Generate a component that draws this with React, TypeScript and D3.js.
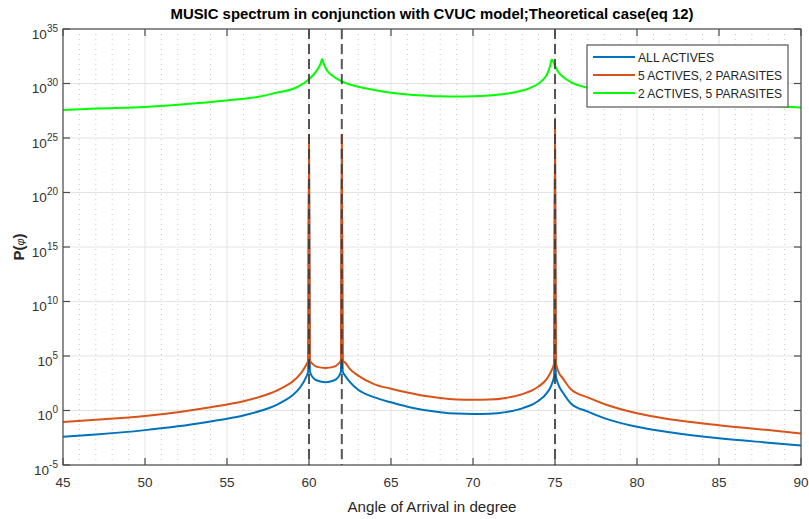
import React from "react";
import * as d3 from "d3";

// ---------- data ----------
const titleText = "MUSIC spectrum in conjunction with CVUC model;Theoretical case(eq 12)";
const xLabelText = "Angle of Arrival in degree";
const seriesNames = ["ALL ACTIVES", "5 ACTIVES, 2 PARASITES", "2 ACTIVES, 5 PARASITES"];
const seriesColors = ["#0072BD", "#D95319", "#00FF00"];

const angleTicks = [45, 50, 55, 60, 65, 70, 75, 80, 85, 90];
const powerTickExponents = [-5, 0, 5, 10, 15, 20, 25, 30, 35];
const trueAngles = [60, 62, 75];

// ALL ACTIVES: angle (deg) and log10 P
const allActivesAngle = [45, 47, 50, 52, 54, 55, 56, 57, 58, 58.5, 59, 59.5, 59.8, 59.95, 60, 60.05, 60.2, 60.5, 61, 61.5, 61.8, 61.95, 62, 62.05, 62.2, 62.5, 63, 64, 65, 66, 67, 68, 69, 70, 71, 72, 73, 74, 74.5, 74.8, 74.95, 75, 75.05, 75.2, 75.5, 76, 77, 78, 80, 82, 85, 88, 90];
const allActivesLogP = [-2.4, -2.2, -1.8, -1.45, -1.0, -0.75, -0.45, -0.05, 0.5, 0.9, 1.4, 2.2, 3.0, 3.6, 24, 3.6, 3.1, 2.75, 2.6, 2.75, 3.1, 3.6, 24, 3.6, 3.2, 2.6, 1.9, 1.2, 0.75, 0.35, 0.05, -0.15, -0.28, -0.32, -0.3, -0.15, 0.2, 0.9, 1.6, 2.4, 3.2, 25, 3.2, 2.4, 1.6, 0.6, -0.1, -0.7, -1.5, -2.0, -2.55, -2.95, -3.2];

// 5 ACTIVES, 2 PARASITES
const fiveActAngle = [45, 47, 50, 52, 54, 55, 56, 57, 58, 58.5, 59, 59.5, 59.8, 59.95, 60, 60.05, 60.2, 60.5, 61, 61.5, 61.8, 61.95, 62, 62.05, 62.2, 62.5, 63, 64, 65, 66, 67, 68, 69, 70, 71, 72, 73, 74, 74.5, 74.8, 74.95, 75, 75.05, 75.2, 75.5, 76, 77, 78, 80, 82, 85, 88, 90];
const fiveActLogP = [-1.05, -0.85, -0.5, -0.15, 0.3, 0.55, 0.85, 1.25, 1.8, 2.2, 2.65, 3.4, 4.1, 4.6, 25.3, 4.6, 4.3, 4.0, 3.9, 4.0, 4.3, 4.6, 25.3, 4.6, 4.4, 3.8, 3.2, 2.4, 2.0, 1.65, 1.35, 1.15, 1.02, 0.98, 1.0, 1.15, 1.5, 2.2, 2.9, 3.7, 4.4, 26.8, 4.4, 3.6, 2.9, 1.9, 1.2, 0.6, -0.25, -0.8, -1.35, -1.8, -2.1];

// 2 ACTIVES, 5 PARASITES
const twoActAngle = [45, 47, 50, 52, 54, 55, 56, 57, 58, 59, 59.5, 60, 60.3, 60.5, 60.7, 60.8, 60.9, 61.1, 61.4, 61.8, 62.3, 63, 64, 65, 66, 67, 68, 69, 70, 71, 72, 73, 73.5, 74, 74.3, 74.5, 74.7, 74.8, 75, 75.2, 75.5, 76, 77, 78, 80, 82, 84, 86, 88, 90];
const twoActLogP = [27.57, 27.7, 27.85, 28.05, 28.3, 28.45, 28.6, 28.8, 29.15, 29.5, 29.85, 30.4, 30.85, 31.25, 31.8, 32.25, 31.8, 31.2, 30.75, 30.35, 30.0, 29.7, 29.4, 29.15, 29.0, 28.9, 28.82, 28.8, 28.82, 28.9, 29.05, 29.35, 29.6, 30.0, 30.4, 30.8, 31.6, 32.2, 31.6, 31.05, 30.6, 30.1, 29.6, 29.3, 28.9, 28.6, 28.35, 28.15, 27.95, 27.8];

const seriesAngles = [allActivesAngle, fiveActAngle, twoActAngle];
const seriesLogP = [allActivesLogP, fiveActLogP, twoActLogP];

// ---------- layout ----------
const W = 809;
const H = 519;
const L = 63, R = 801, T = 29, B = 465;
const FONT = "'Liberation Sans', Arial, Helvetica, sans-serif";

export default function App() {
  const x = d3.scaleLinear().domain([45, 90]).range([L, R]);
  const y = d3.scaleLog().domain([1e-5, 1e35]).range([B, T]);

  const line = d3
    .line<[number, number]>()
    .x((d) => x(d[0]))
    .y((d) => y(Math.pow(10, d[1])))
    .curve(d3.curveMonotoneX);

  const minorX = d3.range(46, 90, 1).filter((v) => v % 5 !== 0);
  const tickLen = 7;

  return (
    <svg
      width={W}
      height={H}
      style={{ position: "absolute", left: 0, top: 0, background: "#fff" }}
      fontFamily={FONT}
    >
      <defs>
        <clipPath id="plotClip">
          <rect x={L} y={T} width={R - L} height={B - T} />
        </clipPath>
      </defs>
      <rect x={0} y={0} width={W} height={H} fill="#fff" />
      <rect x={L} y={T} width={R - L} height={B - T} fill="#fff" />

      {/* minor x grid (dotted) */}
      {minorX.map((v) => (
        <line key={"mx" + v} x1={x(v)} x2={x(v)} y1={T} y2={B} stroke="#c8c8c8" strokeWidth={1} strokeDasharray="1,4" />
      ))}
      {/* major grid */}
      {angleTicks.map((v) => (
        <line key={"gx" + v} x1={x(v)} x2={x(v)} y1={T} y2={B} stroke="#e3e3e3" strokeWidth={1} />
      ))}
      {powerTickExponents.map((e) => (
        <line key={"gy" + e} x1={L} x2={R} y1={y(Math.pow(10, e))} y2={y(Math.pow(10, e))} stroke="#e3e3e3" strokeWidth={1} />
      ))}

      {/* series */}
      <g clipPath="url(#plotClip)">
        {seriesAngles.map((angles, i) => {
          const pts: [number, number][] = angles.map((a, k) => [a, seriesLogP[i][k]]);
          return (
            <path key={"s" + i} d={line(pts) || ""} fill="none" stroke={seriesColors[i]} strokeWidth={2} strokeLinejoin="round" />
          );
        })}
        {/* dashed true-angle markers */}
        {trueAngles.map((a) => (
          <line key={"d" + a} x1={x(a)} x2={x(a)} y1={T} y2={B} stroke="#3a3a3a" strokeOpacity={0.85} strokeWidth={2} strokeDasharray="10,5" />
        ))}
      </g>

      {/* axes box */}
      <rect x={L} y={T} width={R - L} height={B - T} fill="none" stroke="#4d4d4d" strokeWidth={1.2} />
      {/* ticks */}
      {angleTicks.map((v) => (
        <g key={"tx" + v}>
          <line x1={x(v)} x2={x(v)} y1={B} y2={B - tickLen} stroke="#4d4d4d" strokeWidth={1.2} />
          <line x1={x(v)} x2={x(v)} y1={T} y2={T + tickLen} stroke="#4d4d4d" strokeWidth={1.2} />
          <text x={x(v)} y={B + 22} textAnchor="middle" fontSize={13.5} fill="#333">
            {v}
          </text>
        </g>
      ))}
      {powerTickExponents.map((e) => {
        const yy = y(Math.pow(10, e));
        return (
          <g key={"ty" + e}>
            <line x1={L} x2={L + tickLen} y1={yy} y2={yy} stroke="#4d4d4d" strokeWidth={1.2} />
            <line x1={R} x2={R - tickLen} y1={yy} y2={yy} stroke="#4d4d4d" strokeWidth={1.2} />
            <text x={58} y={yy + 9.5} textAnchor="end" fontSize={13.5} fill="#333">
              10
              <tspan dy={-7} fontSize={10}>
                {e}
              </tspan>
            </text>
          </g>
        );
      })}

      {/* title */}
      <text x={(L + R) / 2} y={19} textAnchor="middle" fontSize={15} fontWeight="bold" fill="#000" textLength={523} lengthAdjust="spacingAndGlyphs">
        {titleText}
      </text>
      {/* x label */}
      <text x={(L + R) / 2} y={512} textAnchor="middle" fontSize={15} fill="#262626" textLength={169} lengthAdjust="spacingAndGlyphs">
        {xLabelText}
      </text>
      {/* y label */}
      <text transform={`translate(24, ${(T + B) / 2}) rotate(-90)`} textAnchor="middle" fontSize={15} fontWeight="bold" fill="#262626">
        P(
        <tspan fontStyle="italic" fontWeight="normal" fontSize={11}>
          φ
        </tspan>
        )
      </text>

      {/* legend */}
      <g>
        <rect x={587} y={45} width={201} height={62} fill="#fff" stroke="#555" strokeWidth={1.2} />
        {seriesNames.map((n, i) => {
          const ly = 57 + i * 18;
          const widths = [76, 144, 144];
          return (
            <g key={"lg" + i}>
              <line x1={593} x2={635} y1={ly} y2={ly} stroke={seriesColors[i]} strokeWidth={2} />
              <text x={638} y={ly + 5} fontSize={13} fill="#262626" textLength={widths[i]} lengthAdjust="spacingAndGlyphs">
                {n}
              </text>
            </g>
          );
        })}
      </g>
    </svg>
  );
}
